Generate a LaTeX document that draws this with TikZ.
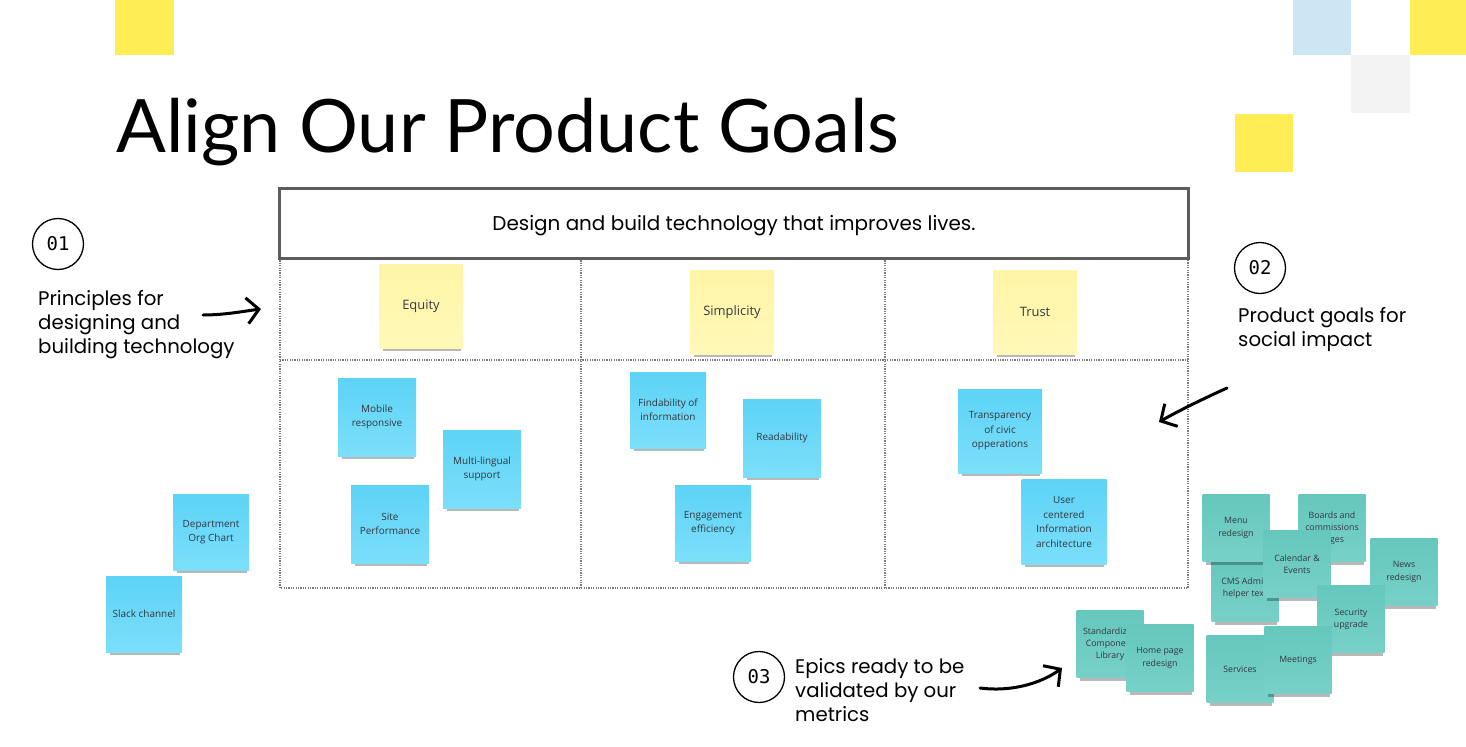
\documentclass[tikz,border=0pt]{standalone}
\usepackage{fontspec}
\setmainfont{Lato}
\newfontfamily\labelfont{Poppins}
\newfontfamily\notefont{Open Sans}
\newfontfamily\numberfont{DejaVu Sans Mono}
\usetikzlibrary{arrows.meta,shadows}
\definecolor{tileyellow}{HTML}{FFED55}
\definecolor{tileblue}{HTML}{CCE6F3}
\definecolor{tilegray}{HTML}{F3F3F3}
\definecolor{paleyellowtop}{HTML}{FFF5A6}
\definecolor{paleyellowlow}{HTML}{FFF8B8}
\definecolor{skybluetop}{HTML}{5DD3F6}
\definecolor{skybluelow}{HTML}{7CDFFA}
\definecolor{tealtop}{HTML}{65C7BD}
\definecolor{teallow}{HTML}{77D1C8}
\definecolor{framegray}{HTML}{5C5C5C}
\definecolor{gridgray}{HTML}{7A7A7A}
\definecolor{notetext}{HTML}{333740}
\begin{document}
\begin{tikzpicture}[
  x=1bp, y=-1bp,
  every node/.style={inner sep=0pt},
  headline/.style={font=\fontsize{74}{80}\selectfont, anchor=base west},
  sidenote/.style={font=\labelfont\fontsize{19.8}{24}\selectfont, align=left, anchor=north west},
  numcircle/.style={circle, draw, line width=1.3bp, minimum size=51bp,
                    font=\numberfont\fontsize{19}{19}\selectfont},
  mission/.style={draw=framegray, line width=3bp, minimum width=908bp,
                  minimum height=70bp, text depth=0bp,
                  font=\labelfont\fontsize{20}{24}\selectfont},
  gridline/.style={draw=gridgray, line width=1.4bp, dash pattern=on 1.2bp off 1.2bp},
  sticky/.style={align=center, text=notetext,
                 drop shadow={shadow xshift=1bp, shadow yshift=-6bp,
                              shadow scale=0.93, opacity=0.28, fill=black}},
  principle/.style={sticky, top color=paleyellowtop, bottom color=paleyellowlow,
                    minimum size=84bp, font=\notefont\fontsize{13}{16}\selectfont},
  goal/.style={sticky, top color=skybluetop, bottom color=skybluelow,
               minimum size=78bp, font=\notefont\fontsize{10}{14.5}\selectfont},
  epic/.style={sticky, top color=tealtop, bottom color=teallow,
               minimum size=67bp, font=\notefont\fontsize{8.8}{12.3}\selectfont},
  handarrow/.style={line width=3bp, line cap=round,
                    -{Straight Barb[length=12bp, width=26bp]}}
]
\useasboundingbox (0,0) rectangle (1466,746);

\fill[tileyellow] (115,0) rectangle (174,55);
\fill[tileblue] (1293,0) rectangle (1351,55);
\fill[tileyellow] (1410,0) rectangle (1466,55);
\fill[tilegray] (1351,55) rectangle (1410,113);
\fill[tileyellow] (1235,114) rectangle (1293,172);

\node[headline] (pagetitle) at (116,152) {Align Our Product Goals};

\draw[gridline] (280,258) rectangle (1188,588);
\draw[gridline] (280,360) -- (1188,360);
\draw[gridline] (581,258) -- (581,588);
\draw[gridline] (885,258) -- (885,588);
\node[mission] (mission) at (734,223) {Design and build technology that improves lives.};

\node[principle] (equity) at (421,306) {Equity};
\node[principle] (simplicity) at (732,312) {Simplicity};
\node[principle] (trust) at (1035,312) {Trust};

\node[goal] (mobile) at (377,417) {Mobile\\responsive};
\node[goal] (multilingual) at (482,469) {Multi-lingual\\support};
\node[goal] (siteperformance) at (390,524) {Site\\Performance};
\node[goal, minimum size=76bp] (findability) at (668,410) {Findability of\\information};
\node[goal] (readability) at (782,438) {Readability};
\node[goal, minimum size=76bp] (engagement) at (713,523) {Engagement\\efficiency};
\node[goal, minimum size=84bp] (transparency) at (1000,431) {Transparency\\of civic\\opperations};
\node[goal, minimum size=85bp] (usercentered) at (1064,522) {User\\centered\\Information\\architecture};
\node[goal, minimum size=76bp] (orgchart) at (211,532) {Department\\Org Chart};
\node[goal, minimum size=76bp] (slack) at (144,614) {Slack channel};

\node[epic] (componentlibrary) at (1110,644) {Standardized\\Component\\Library};
\node[epic] (homepage) at (1160,658) {Home page\\redesign};
\node[epic] (boards) at (1332,528) {Boards and\\commissions\\pages};
\node[epic] (cmsadmin) at (1245,588) {CMS Admin\\helper text};
\node[epic] (menu) at (1236,528) {Menu\\redesign};
\node[epic] (calendar) at (1297,564) {Calendar \&\\Events};
\node[epic] (news) at (1404,572) {News\\redesign};
\node[epic] (security) at (1351,619) {Security\\upgrade};
\node[epic] (services) at (1240,669) {Services};
\node[epic] (meetings) at (1298,660) {Meetings};

\node[numcircle] (numone) at (58,244) {01};
\node[sidenote] (principlestext) at (38,290) {Principles for\\designing and\\building technology};
\node[numcircle] (numtwo) at (1260,268) {02};
\node[sidenote] (goalstext) at (1238,307) {Product goals for\\social impact};
\node[numcircle] (numthree) at (759,677) {03};
\node[sidenote] (epicstext) at (795,658) {Epics ready to be\\validated by our\\metrics};

\coordinate (principlesfrom) at (203,315);
\coordinate (principlesto) at (261,309);
\coordinate (goalsfrom) at (1227,388);
\coordinate (goalsto) at (1159,422);
\coordinate (epicsfrom) at (980,688);
\coordinate (epicsto) at (1062,668);
\draw[handarrow] (principlesfrom) .. controls (225,315) and (245,311) .. (principlesto);
\draw[handarrow] (goalsfrom) .. controls (1205,398) and (1180,410) .. (goalsto);
\draw[handarrow] (epicsfrom) .. controls (1010,692) and (1040,684) .. (epicsto);
\end{tikzpicture}
\end{document}
